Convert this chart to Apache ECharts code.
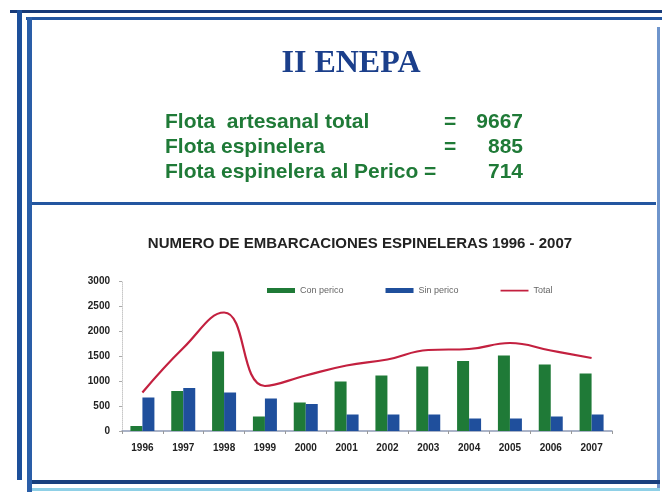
<!DOCTYPE html>
<html>
<head>
<meta charset="utf-8">
<script src="https://cdn.jsdelivr.net/npm/echarts@6/dist/echarts.min.js"></script>
<style>
  html, body { margin: 0; padding: 0; background: #fff; }
  #main { width: 664px; height: 492px; }
</style>
</head>
<body>
<div id="main"></div>
<script>
// data
const years = ['1996', '1997', '1998', '1999', '2000', '2001', '2002', '2003', '2004', '2005', '2006', '2007']
const conPerico = [100, 800, 1590, 290, 570, 990, 1110, 1290, 1400, 1510, 1330, 1150]
const sinPerico = [670, 860, 770, 650, 540, 330, 330, 330, 250, 250, 290, 330]
const total = [770, 1660, 2370, 900, 1110, 1310, 1430, 1620, 1640, 1760, 1610, 1460]

const fleetLabels = ['Flota  artesanal total', 'Flota espinelera', 'Flota espinelera al Perico =']
const fleetEquals = ['=', '=', '']
const fleetValues = ['9667', '885', '714']

const navy = '#1b3f8b'
const green = '#1f7a37'
const blue = '#1f4f9c'
const red = '#c3203f'

const chartDom = document.getElementById('main')
const myChart = echarts.init(chartDom, null, { renderer: 'canvas' })

// slide frame lines
const frame = [
  { type: 'rect', shape: { x: 10, y: 10, width: 652, height: 3 }, style: { fill: '#173a78' } },
  { type: 'rect', shape: { x: 26, y: 17, width: 636, height: 3 }, style: { fill: '#2356a0' } },
  { type: 'rect', shape: { x: 17, y: 10, width: 5, height: 470 }, style: { fill: '#1c4f9a' } },
  { type: 'rect', shape: { x: 27, y: 17, width: 5, height: 475 }, style: { fill: '#2a5ea8' } },
  { type: 'rect', shape: { x: 657, y: 27, width: 3, height: 462 }, style: { fill: '#6f95cc' } },
  { type: 'rect', shape: { x: 32, y: 202, width: 624, height: 3 }, style: { fill: '#2356a0' } },
  { type: 'rect', shape: { x: 32, y: 480, width: 628, height: 4 }, style: { fill: '#18407e' } },
  { type: 'rect', shape: { x: 32, y: 488, width: 628, height: 3 }, style: { fill: '#8fd0e6' } }
]

const fleetFont = 'bold 21px "Liberation Sans", Arial, sans-serif'
const fleetText = []
fleetLabels.forEach((t, i) => {
  const y = 122 + i * 25
  fleetText.push({ type: 'text', x: 165, y: y,
    style: { text: t, fill: green, font: fleetFont, textVerticalAlign: 'middle' } })
  if (fleetEquals[i]) {
    fleetText.push({ type: 'text', x: 444, y: y,
      style: { text: fleetEquals[i], fill: green, font: fleetFont, textVerticalAlign: 'middle' } })
  }
  fleetText.push({ type: 'text', x: 523, y: y,
    style: { text: fleetValues[i], fill: green, textAlign: 'right', font: fleetFont, textVerticalAlign: 'middle' } })
})

const option = {
  backgroundColor: '#fff',
  animation: false,
  title: [
    {
      text: 'II ENEPA',
      left: 346, top: 43, textAlign: 'center',
      textStyle: { fontFamily: '"Liberation Serif", "DejaVu Serif", serif', fontSize: 32, fontWeight: 'bold', color: navy }
    },
    {
      text: 'NUMERO DE EMBARCACIONES ESPINELERAS 1996 - 2007',
      left: 355, top: 231, textAlign: 'center',
      textStyle: { fontFamily: '"Liberation Sans", Arial, sans-serif', fontSize: 15, fontWeight: 'bold', color: '#222' }
    }
  ],
  legend: {
    top: 281, left: 262,
    itemWidth: 28, itemHeight: 5, itemGap: 42,
    textStyle: { fontSize: 9, color: '#666', fontFamily: '"Liberation Sans", Arial, sans-serif' },
    data: [
      { name: 'Con perico', icon: 'rect' },
      { name: 'Sin perico', icon: 'rect' },
      { name: 'Total', icon: 'path://M0,0 L28,0 L28,0.01 Z M0,1.8 L28,1.8 L28,3.4 L0,3.4 Z M0,5 L28,5 L28,5.01 Z' }
    ]
  },
  grid: { left: 122, right: 52, top: 281, bottom: 61 },
  xAxis: {
    type: 'category',
    data: years,
    axisLine: { lineStyle: { color: '#8e9bb5', width: 1.5 } },
    axisTick: { show: true, lineStyle: { color: '#999' }, length: 3 },
    axisLabel: { color: '#222', fontSize: 10, fontWeight: 'bold', margin: 12, fontFamily: '"Liberation Sans", Arial, sans-serif' }
  },
  yAxis: {
    type: 'value',
    min: 0, max: 3000, interval: 500,
    axisLine: { show: true, lineStyle: { color: '#c8c8c8', type: 'dotted' } },
    axisTick: { show: true, length: 3, lineStyle: { color: '#aaa' } },
    splitLine: { show: false },
    axisLabel: {
      color: '#222', fontSize: 10, fontWeight: 'bold', margin: 12,
      fontFamily: '"Liberation Sans", Arial, sans-serif',
      formatter: v => String(v)
    }
  },
  series: [
    {
      name: 'Con perico', type: 'bar', data: conPerico,
      barWidth: 12, barGap: '0%',
      itemStyle: { color: green }
    },
    {
      name: 'Sin perico', type: 'bar', data: sinPerico,
      barWidth: 12,
      itemStyle: { color: blue }
    },
    {
      name: 'Total', type: 'line', data: total,
      smooth: 0.45, symbol: 'none',
      lineStyle: { color: red, width: 2.2 },
      itemStyle: { color: red }
    }
  ],
  graphic: frame.concat(fleetText)
}

myChart.setOption(option)
</script>
</body>
</html>
